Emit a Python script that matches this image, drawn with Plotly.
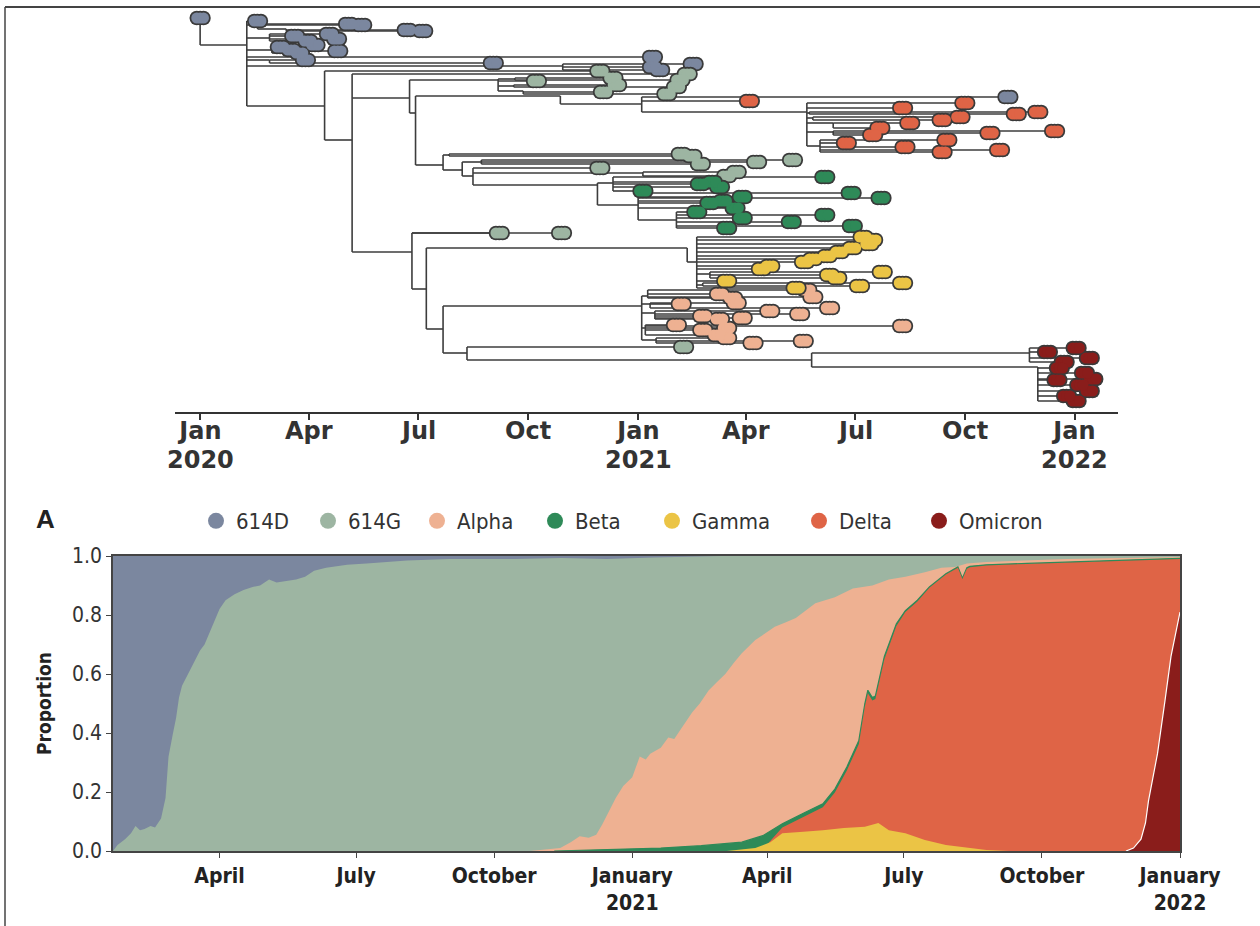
import plotly.graph_objects as go

W, H = 1260, 926

COLORS = {
    "614D": "#7b879f",
    "614G": "#9db5a2",
    "Alpha": "#eeb192",
    "Beta": "#2e8a58",
    "Gamma": "#ebc445",
    "Delta": "#df6446",
    "Omicron": "#8a1d1b",
}
VARIANTS = ["614D", "614G", "Alpha", "Beta", "Gamma", "Delta", "Omicron"]

# ---------------- Panel A: upper edge of each variant band (cumulative proportion) ----------------
edge_614G_dates = ["2020-01-21", "2020-01-24", "2020-01-29", "2020-02-02", "2020-02-05", "2020-02-08",
                   "2020-02-11", "2020-02-15", "2020-02-18", "2020-02-22", "2020-02-25", "2020-02-27",
                   "2020-03-01", "2020-03-03", "2020-03-05", "2020-03-07", "2020-03-11", "2020-03-15",
                   "2020-03-19", "2020-03-22", "2020-03-27", "2020-04-01", "2020-04-05", "2020-04-11",
                   "2020-04-17", "2020-04-23", "2020-04-28", "2020-05-04", "2020-05-09", "2020-05-15",
                   "2020-05-22", "2020-05-28", "2020-06-03", "2020-06-11", "2020-06-25", "2020-07-08",
                   "2020-08-04", "2020-09-01", "2020-10-15", "2020-11-15", "2020-12-15", "2021-01-15",
                   "2021-02-15", "2021-03-01", "2022-01-01"]
edge_614G = [0.0, 0.02, 0.04, 0.06, 0.085, 0.07, 0.075, 0.085, 0.08, 0.11, 0.18, 0.32,
             0.40, 0.45, 0.52, 0.56, 0.60, 0.64, 0.68, 0.70, 0.76, 0.82, 0.85, 0.87,
             0.885, 0.895, 0.90, 0.92, 0.91, 0.915, 0.92, 0.93, 0.95, 0.96, 0.97, 0.975,
             0.985, 0.99, 0.99, 0.993, 0.99, 0.995, 0.998, 1.0, 1.0]

edge_alpha_dates = ["2020-10-25", "2020-11-02", "2020-11-14", "2020-11-21", "2020-11-27", "2020-12-03",
                    "2020-12-08", "2020-12-12", "2020-12-16", "2020-12-21", "2020-12-26", "2021-01-01",
                    "2021-01-06", "2021-01-10", "2021-01-13", "2021-01-20", "2021-01-25", "2021-01-29",
                    "2021-02-02", "2021-02-06", "2021-02-10", "2021-02-15", "2021-02-21", "2021-02-26",
                    "2021-03-04", "2021-03-10", "2021-03-15", "2021-03-24", "2021-04-06", "2021-04-13",
                    "2021-04-20", "2021-05-03", "2021-05-16", "2021-05-28", "2021-06-10", "2021-06-21",
                    "2021-07-02", "2021-07-15", "2021-07-26", "2021-08-04", "2021-08-12", "2021-08-25",
                    "2021-09-21", "2021-10-18", "2021-11-15", "2021-12-12", "2022-01-01"]
edge_alpha = [0.0, 0.003, 0.01, 0.03, 0.05, 0.045, 0.055, 0.09, 0.13, 0.18, 0.22, 0.25,
              0.32, 0.31, 0.33, 0.35, 0.385, 0.38, 0.41, 0.44, 0.47, 0.50, 0.545, 0.57,
              0.60, 0.64, 0.67, 0.715, 0.76, 0.775, 0.79, 0.84, 0.86, 0.89, 0.90, 0.92,
              0.93, 0.945, 0.96, 0.963, 0.975, 0.98, 0.985, 0.99, 0.992, 0.995, 0.997]

edge_beta_dates = ["2020-11-10", "2020-12-10", "2021-01-01", "2021-01-20", "2021-02-16", "2021-03-15",
                   "2021-03-29", "2021-04-11", "2021-04-25", "2021-05-08", "2021-05-16", "2021-05-24",
                   "2021-06-01", "2021-06-05", "2021-06-07", "2021-06-10", "2021-06-12", "2021-06-18",
                   "2021-06-26", "2021-07-02", "2021-07-10", "2021-07-18", "2021-07-29", "2021-08-06",
                   "2021-08-09", "2021-08-12", "2021-08-14", "2021-08-25", "2021-09-21", "2021-10-18",
                   "2021-11-15", "2021-12-12", "2022-01-01"]
edge_beta = [0.0, 0.004, 0.008, 0.01, 0.018, 0.03, 0.052, 0.092, 0.128, 0.16, 0.21, 0.285,
             0.375, 0.50, 0.545, 0.52, 0.525, 0.66, 0.77, 0.815, 0.85, 0.895, 0.94, 0.963,
             0.925, 0.96, 0.965, 0.97, 0.975, 0.98, 0.985, 0.99, 0.992]

edge_delta_dates = ["2021-03-28", "2021-04-03", "2021-04-11", "2021-04-25", "2021-05-08", "2021-05-16",
                    "2021-05-24", "2021-06-01", "2021-06-05", "2021-06-07", "2021-06-10", "2021-06-12",
                    "2021-06-18", "2021-06-26", "2021-07-02", "2021-07-10", "2021-07-18", "2021-07-29",
                    "2021-08-06", "2021-08-09", "2021-08-12", "2021-08-14", "2021-08-25", "2021-09-21",
                    "2021-10-18", "2021-11-15", "2021-12-12", "2022-01-01"]
edge_delta = [0.0, 0.035, 0.08, 0.115, 0.148, 0.198, 0.273, 0.363, 0.49, 0.535, 0.51, 0.515,
              0.65, 0.763, 0.81, 0.846, 0.892, 0.937, 0.96, 0.922, 0.957, 0.962, 0.968, 0.973,
              0.978, 0.983, 0.988, 0.99]

edge_gamma_dates = ["2021-03-05", "2021-03-24", "2021-04-03", "2021-04-11", "2021-04-25", "2021-05-08",
                    "2021-05-22", "2021-06-05", "2021-06-14", "2021-06-21", "2021-07-02", "2021-07-15",
                    "2021-07-29", "2021-08-12", "2021-08-25", "2021-09-09"]
edge_gamma = [0.0, 0.01, 0.03, 0.06, 0.065, 0.07, 0.078, 0.082, 0.095, 0.07, 0.06, 0.037,
              0.02, 0.01, 0.003, 0.0]

edge_omicron_dates = ["2021-11-26", "2021-12-01", "2021-12-06", "2021-12-09", "2021-12-11", "2021-12-17",
                      "2021-12-22", "2021-12-26", "2022-01-01"]
edge_omicron = [0.0, 0.01, 0.04, 0.095, 0.17, 0.33, 0.51, 0.66, 0.81]

area_ticks = ["2020-04-01", "2020-07-01", "2020-10-01", "2021-01-01", "2021-04-01", "2021-07-01",
              "2021-10-01", "2022-01-01"]
area_ticktext = ["April", "July", "October", "January<br>2021", "April", "July", "October", "January<br>2022"]

# ---------------- Tree: x = days since 2020-01-01, y = row (top = 0) ----------------
tree_ticks = [0, 91, 182, 274, 366, 456, 547, 639, 731]
tree_month_text = ["Jan", "Apr", "Jul", "Oct", "Jan", "Apr", "Jul", "Oct", "Jan"]
tree_year_text = ["2020", "", "", "", "2021", "", "", "", "2022"]


def T(day, row, var):
    return ("T", day, row, var)


def N(day, row, *kids):
    return ("N", day, row, kids)


delta_clade = N(507, 112,
                T(639, 103, "Delta"), T(587, 108, "Delta"),
                N(509, 113, T(682, 114, "Delta"), T(700, 112, "Delta")),
                N(512, 118, T(620, 120, "Delta"), T(635, 117, "Delta")),
                N(529, 123, T(593, 123, "Delta"), T(568, 128, "Delta")),
                N(529, 132, T(660, 133, "Delta"), T(714, 131, "Delta"), T(562, 135, "Delta")),
                N(518, 146, T(540, 143, "Delta"), T(624, 140, "Delta"), T(589, 147, "Delta"),
                  T(620, 152, "Delta"), T(668, 150, "Delta")))

beta_clade = N(332, 185,
               N(345, 183, T(370, 191, "Beta"), T(418, 184, "Beta"), T(428, 182, "Beta"),
                 T(434, 187, "Beta"), T(522, 177, "Beta")),
               N(366, 205, T(453, 197, "Beta"), T(544, 193, "Beta"), T(569, 198, "Beta"),
                 T(426, 203, "Beta"), T(437, 201, "Beta"), T(447, 208, "Beta"),
                 N(398, 220, T(415, 212, "Beta"), T(453, 218, "Beta"), T(494, 222, "Beta"),
                   T(522, 215, "Beta"), T(545, 226, "Beta"), T(440, 228, "Beta"))))

gamma_clade = N(407, 248,
                N(415, 262, T(554, 237, "Gamma"), T(562, 240, "Gamma"), T(559, 244, "Gamma"),
                  T(545, 248, "Gamma"), T(534, 252, "Gamma"), T(524, 256, "Gamma"),
                  T(512, 259, "Gamma"), T(505, 262, "Gamma"), T(476, 266, "Gamma"),
                  T(469, 269, "Gamma"),
                  N(426, 274, T(570, 272, "Gamma"), T(526, 275, "Gamma"), T(532, 278, "Gamma")),
                  T(440, 281, "Gamma"),
                  N(420, 285, T(551, 286, "Gamma"), T(587, 283, "Gamma")),
                  T(498, 288, "Gamma")))

alpha_clade = N(369, 306,
                N(374, 296, T(434, 294, "Alpha"), T(445, 298, "Alpha"), T(507, 290, "Alpha"),
                  T(512, 297, "Alpha")),
                N(376, 304, T(402, 304, "Alpha"), T(448, 303, "Alpha"), T(526, 308, "Alpha")),
                N(380, 313, T(476, 311, "Alpha"), T(501, 314, "Alpha"), T(420, 316, "Alpha"),
                  T(434, 319, "Alpha"), T(453, 318, "Alpha")),
                N(372, 328, T(398, 325, "Alpha"), T(420, 330, "Alpha"), T(440, 328, "Alpha"),
                  T(587, 326, "Alpha"), T(432, 335, "Alpha")),
                N(381, 340, T(462, 343, "Alpha"), T(504, 341, "Alpha"), T(440, 338, "Alpha")))

omicron_clade = N(511, 360,
                  N(693, 353, T(708, 352, "Omicron"), T(732, 348, "Omicron"), T(743, 358, "Omicron"),
                    T(722, 362, "Omicron")),
                  N(700, 367, T(718, 368, "Omicron"), T(739, 373, "Omicron"), T(716, 380, "Omicron"),
                    T(735, 385, "Omicron"), T(743, 391, "Omicron"), T(724, 396, "Omicron"),
                    T(732, 401, "Omicron"), T(746, 379, "Omicron")))

g614_top_clade = N(249, 80,
                   T(281, 81, "614G"),
                   N(263, 79, T(345, 78, "614G"), T(401, 80, "614G")),
                   N(262, 86, T(348, 85, "614G"), T(398, 87, "614G")),
                   N(270, 91, T(337, 92, "614G"), T(390, 94, "614G")))

g614_mid_clade = N(203, 165,
                   N(208, 155, T(402, 154, "614G"), T(411, 156, "614G")),
                   N(219, 170,
                     N(235, 162, T(418, 164, "614G"), T(465, 162, "614G"), T(495, 160, "614G")),
                     N(228, 176, T(334, 168, "614G"),
                       N(370, 173, T(448, 172, "614G"), T(440, 176, "614G")),
                       beta_clade)))

d614_clade = N(39, 45,
               T(48, 21, "614D"),
               N(48, 25, T(124, 24, "614D"), T(135, 25, "614D"),
                 N(72, 29, T(173, 30, "614D"), T(186, 31, "614D"))),
               N(58, 38, T(79, 36, "614D"), T(90, 41, "614D"), T(108, 34, "614D"), T(114, 39, "614D")),
               N(60, 50, T(67, 47, "614D"), T(76, 50, "614D"), T(83, 53, "614D"), T(115, 51, "614D"),
                 T(96, 45, "614D")),
               T(378, 57, "614D"),
               N(58, 60, T(88, 60, "614D"), T(245, 63, "614D")),
               N(303, 66, T(378, 67, "614D"), T(384, 70, "614D"), T(412, 64, "614D")),
               N(104, 106,
                 T(334, 71, "614G"),
                 N(127, 140,
                   T(407, 74, "614G"),
                   N(175, 98,
                     g614_top_clade,
                     N(180, 113,
                       N(301, 96,
                         N(369, 104, T(459, 101, "Delta"), T(675, 97, "614D"), delta_clade)),
                       g614_mid_clade)),
                   N(177, 252,
                     T(250, 233, "614G"), T(302, 233, "614G"),
                     N(189, 289,
                       gamma_clade,
                       N(203, 329,
                         alpha_clade,
                         N(223, 353, T(404, 347, "614G"), omicron_clade)))))))

tree_root = N(0, 18, T(0, 18, "614D"), d614_clade)

# legend marker centres (px)
legend_marker_px = [218, 330, 439, 557, 674, 821, 941]

# ---------------- build tree geometry ----------------
seg_x, seg_y = [], []
tips = {v: ([], []) for v in VARIANTS}


def walk(node):
    kind, day, row = node[0], node[1], node[2]
    if kind == "T":
        tips[node[3]][0].append(day)
        tips[node[3]][1].append(row)
        return
    kids = node[3]
    rows = [row] + [k[2] for k in kids]
    seg_x.extend([day, day, None])
    seg_y.extend([min(rows), max(rows), None])
    for k in kids:
        seg_x.extend([day, k[1], None])
        seg_y.extend([k[2], k[2], None])
        walk(k)


walk(tree_root)

fig = go.Figure()
fig.add_trace(go.Scatter(x=seg_x, y=seg_y, mode="lines", line=dict(color="#3d3d3d", width=1.6),
                         hoverinfo="skip", showlegend=False, xaxis="x", yaxis="y", cliponaxis=False))

half = 2.8  # days; stretches each round marker into an oval
for v in VARIANTS:
    xs, ys = tips[v]
    if not xs:
        continue
    px = [d - half for d in xs] + [d for d in xs] + [d + half for d in xs]
    py = ys + ys + ys
    fig.add_trace(go.Scatter(x=px, y=py, mode="markers", marker=dict(size=14.5, color="#3a3a3a"),
                             hoverinfo="skip", showlegend=False, xaxis="x", yaxis="y", cliponaxis=False))
    fig.add_trace(go.Scatter(x=px, y=py, mode="markers", marker=dict(size=11, color=COLORS[v]),
                             hoverinfo="skip", showlegend=False, xaxis="x", yaxis="y", cliponaxis=False))

# ---------------- area chart (painter's order: top band first) ----------------
fig.add_trace(go.Scatter(x=["2020-01-21", "2022-01-01"], y=[1, 1], mode="lines", line=dict(width=0),
                         fill="tozeroy", fillcolor=COLORS["614D"], showlegend=False, hoverinfo="skip",
                         xaxis="x2", yaxis="y2"))
layers = [
    ("614G", edge_614G_dates, edge_614G, 0, None),
    ("Alpha", edge_alpha_dates, edge_alpha, 0, None),
    ("Beta", edge_beta_dates, edge_beta, 1.2, COLORS["Beta"]),
    ("Delta", edge_delta_dates, edge_delta, 0, None),
    ("Gamma", edge_gamma_dates, edge_gamma, 0, None),
    ("Omicron", edge_omicron_dates, edge_omicron, 1.2, "#ffffff"),
]
for name, xs, ys, lw, lc in layers:
    fig.add_trace(go.Scatter(x=xs, y=ys, mode="lines",
                             line=dict(width=lw, color=lc if lc else COLORS[name]),
                             fill="tozeroy", fillcolor=COLORS[name], showlegend=False,
                             hoverinfo="skip", xaxis="x2", yaxis="y2"))

FONT = "Liberation Sans Narrow, DejaVu Sans Condensed, Arial Narrow, sans-serif"
HEAVY = "DejaVu Sans, Verdana, sans-serif"

legend_layouts = {}
for i, v in enumerate(VARIANTS):
    key = "legend" if i == 0 else "legend%d" % (i + 1)
    fig.add_trace(go.Scatter(x=[None], y=[None], mode="markers", name=v, legend=key,
                             marker=dict(size=16, color=COLORS[v]), xaxis="x2", yaxis="y2"))
    legend_layouts[key] = dict(orientation="h", x=(legend_marker_px[i] - 22) / W, xanchor="left",
                               y=1 - 521 / H, yanchor="middle",
                               font=dict(family=FONT, size=22, color="#333333"),
                               bgcolor="rgba(0,0,0,0)", borderwidth=0)

annotations = [dict(text="<b>A</b>", x=45 / W, xanchor="center", y=1 - 519 / H, xref="paper",
                    yref="paper", showarrow=False,
                    font=dict(family="Liberation Sans, Arial, sans-serif", size=26, color="#222222"))]
SPAN = '<span style="font-size:24px">%s</span>'
for d, m, yr in zip(tree_ticks, tree_month_text, tree_year_text):
    if yr:
        txt = "<b>" + SPAN % m + "<br>" + SPAN % yr + "</b>"
        ymid = 1 - 445 / H
    else:
        txt = "<b>" + SPAN % m + "</b>"
        ymid = 1 - 431 / H
    annotations.append(dict(text=txt, x=d, xref="x", xanchor="center", y=ymid, yref="paper",
                            yanchor="middle", showarrow=False,
                            font=dict(family=HEAVY, size=22, color="#333333")))

fig.update_layout(
    width=W, height=H, autosize=False,
    margin=dict(l=0, r=0, t=0, b=0, pad=0, autoexpand=False),
    paper_bgcolor="white", plot_bgcolor="white",
    font=dict(family=FONT, color="#333333"),
    xaxis=dict(domain=[175 / W, 1118 / W], range=[-21, 767], anchor="y", automargin=False,
               showline=True, linecolor="#333333", linewidth=2,
               ticks="outside", ticklen=6, tickwidth=2, tickcolor="#333333",
               tickvals=tree_ticks, showticklabels=False,
               showgrid=False, zeroline=False, fixedrange=True),
    yaxis=dict(domain=[1 - 412 / H, 1], range=[412, 0], anchor="x", visible=False, fixedrange=True,
               automargin=False),
    xaxis2=dict(domain=[113 / W, 1180 / W], type="date", range=["2020-01-21", "2022-01-01"], anchor="y2",
                automargin=False,
                showline=True, mirror=True, linecolor="#444444", linewidth=1.5,
                ticks="outside", ticklen=5, tickcolor="#444444",
                tickvals=area_ticks,
                ticktext=["<b>" + t.replace("<br>", "</b><br><b>") + "</b>" for t in area_ticktext],
                tickfont=dict(family=FONT, size=21, color="#222222"),
                showgrid=False, zeroline=False),
    yaxis2=dict(domain=[1 - 851 / H, 1 - 556 / H], range=[0, 1], anchor="x2", automargin=False,
                showline=True, mirror=True, linecolor="#444444", linewidth=1.5,
                ticks="outside", ticklen=5, tickcolor="#444444",
                tickvals=[0, 0.2, 0.4, 0.6, 0.8, 1.0], tickformat=".1f",
                tickfont=dict(family=FONT, size=21, color="#333333"),
                title=dict(text="<b>Proportion</b>", font=dict(family=FONT, size=19, color="#222222"),
                           standoff=15),
                showgrid=False, zeroline=False),
    annotations=annotations,
    shapes=[dict(type="line", xref="paper", yref="paper", x0=5 / W, x1=1.0, y0=1 - 7 / H, y1=1 - 7 / H,
                 line=dict(color="#444444", width=2), layer="above"),
            dict(type="line", xref="paper", yref="paper", x0=5 / W, x1=5 / W, y0=0, y1=1 - 7 / H,
                 line=dict(color="#444444", width=1.5), layer="above")],
    **legend_layouts,
)

fig.write_html("out.html", config={"displayModeBar": False},
               post_script="document.body.style.margin='0px';document.body.style.overflow='hidden';")
